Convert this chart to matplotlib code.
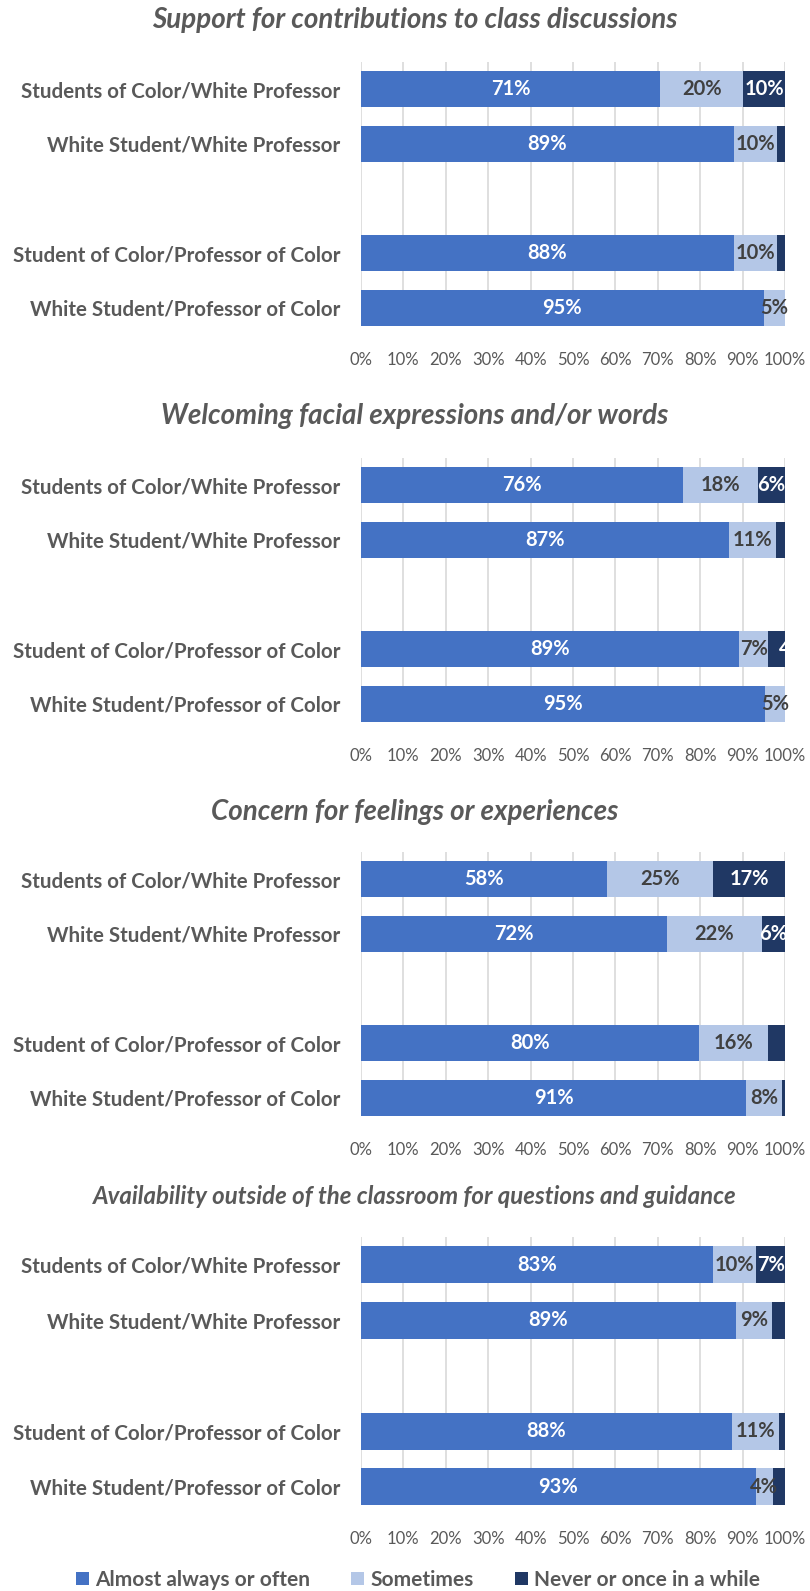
import matplotlib
matplotlib.use('Agg')
import matplotlib.pyplot as plt

plt.rcParams['font.family'] = ['Lato', 'DejaVu Sans']

groups = ['Students of Color/White Professor', 'White Student/White Professor',
          'Student of Color/Professor of Color', 'White Student/Professor of Color']
series = ['Almost always or often', 'Sometimes', 'Never or once in a while']
colors = ['#4472C4', '#B4C7E7', '#203864']
text_colors = ['white', '#404040', 'white']

titles = ['Support for contributions to class discussions',
          'Welcoming facial expressions and/or words',
          'Concern for feelings or experiences',
          'Availability outside of the classroom for questions and guidance']

# percent shares, one list per series, in the order of groups
support_often = [70.5, 88.0, 87.9, 95.0]
support_sometimes = [19.7, 10.0, 10.1, 5.0]
support_never = [9.8, 2.0, 2.0, 0.0]
support_often_lbl = ['71%', '89%', '88%', '95%']
support_sometimes_lbl = ['20%', '10%', '10%', '5%']
support_never_lbl = ['10%', '', '', '']

welcome_often = [75.9, 86.8, 89.2, 95.3]
welcome_sometimes = [17.8, 11.1, 6.9, 4.7]
welcome_never = [6.3, 2.1, 3.9, 0.0]
welcome_often_lbl = ['76%', '87%', '89%', '95%']
welcome_sometimes_lbl = ['18%', '11%', '7%', '5%']
welcome_never_lbl = ['6%', '', '4%', '']

concern_often = [58.0, 72.1, 79.7, 90.9]
concern_sometimes = [25.1, 22.5, 16.4, 8.3]
concern_never = [16.9, 5.4, 3.9, 0.8]
concern_often_lbl = ['58%', '72%', '80%', '91%']
concern_sometimes_lbl = ['25%', '22%', '16%', '8%']
concern_never_lbl = ['17%', '6%', '', '']

avail_often = [83.0, 88.4, 87.5, 93.1]
avail_sometimes = [10.2, 8.5, 11.1, 4.0]
avail_never = [6.8, 3.1, 1.4, 2.9]
avail_often_lbl = ['83%', '89%', '88%', '93%']
avail_sometimes_lbl = ['10%', '9%', '11%', '4%']
avail_never_lbl = ['7%', '', '', '']

panels = [
    ([support_often, support_sometimes, support_never],
     [support_often_lbl, support_sometimes_lbl, support_never_lbl]),
    ([welcome_often, welcome_sometimes, welcome_never],
     [welcome_often_lbl, welcome_sometimes_lbl, welcome_never_lbl]),
    ([concern_often, concern_sometimes, concern_never],
     [concern_often_lbl, concern_sometimes_lbl, concern_never_lbl]),
    ([avail_often, avail_sometimes, avail_never],
     [avail_often_lbl, avail_sometimes_lbl, avail_never_lbl]),
]

W, H = 810, 1591
fig = plt.figure(figsize=(W / 100, H / 100), dpi=100)

# pixel boxes (top, bottom) of each plot area
boxes = [(62, 326), (458, 722), (852, 1116), (1237, 1505)]
title_y = [20, 416, 812, 1196]
title_size = [20, 20, 20, 17.3]
left, right = 361, 785
ypos = [0, 1, 3, 4]
gray = '#595959'

handles = []
for k, ((vals, lbls), (top, bot)) in enumerate(zip(panels, boxes)):
    ax = fig.add_axes([left / W, 1 - bot / H, (right - left) / W, (bot - top) / H])
    base = [0.0] * 4
    for s in range(3):
        b = ax.barh(ypos, [v / 100 for v in vals[s]], left=[x / 100 for x in base],
                    height=0.66, color=colors[s], label=series[s], zorder=2)
        if k == 0:
            handles.append(b)
        for i in range(4):
            if lbls[s][i]:
                cx = (base[i] + vals[s][i] / 2) / 100
                ha = 'center'
                if s == 2 and vals[s][i] < 5:
                    # too narrow: Excel pushes it past the plot edge, where it gets cut
                    cx, ha = 0.986, 'left'
                ax.text(cx, ypos[i], lbls[s][i], ha=ha, va='center',
                        color=text_colors[s], fontsize=14.5, fontweight='bold',
                        zorder=3, clip_on=(s == 2))
            base[i] += vals[s][i]
    ax.set_xlim(0, 1)
    ax.set_ylim(4.33, -0.5)
    ax.set_xticks([i / 10 for i in range(11)])
    ax.set_xticklabels(['%d%%' % (i * 10) for i in range(11)], fontsize=12, color=gray)
    ax.set_yticks(ypos)
    ax.set_yticklabels(groups, fontsize=14.8, fontweight='bold', color=gray)
    ax.tick_params(axis='y', length=0, pad=15)
    ax.tick_params(axis='x', length=0, pad=19)
    ax.grid(axis='x', color='#D9D9D9', linewidth=1.2, zorder=0)
    for sp in ax.spines.values():
        sp.set_visible(False)
    fig.text(415 / W, 1 - title_y[k] / H, titles[k], ha='center', va='center',
             fontsize=title_size[k], fontweight='bold', fontstyle='italic', color=gray)

fig.legend(handles, series, loc='center', bbox_to_anchor=(418 / W, 1 - 1580 / H),
           ncol=3, frameon=False, handlelength=0.6, handleheight=0.6,
           handletextpad=0.3, columnspacing=2.0, labelcolor=gray,
           prop={'weight': 'bold', 'size': 15})

fig.savefig('out.png', dpi=100)
